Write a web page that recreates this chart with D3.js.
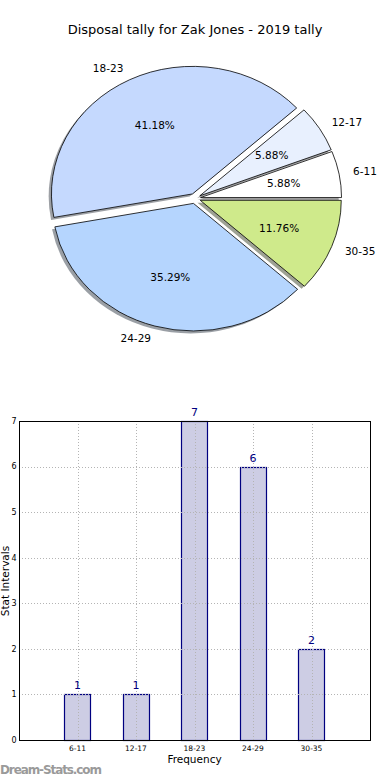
<!DOCTYPE html>
<html>
<head>
<meta charset="utf-8">
<script src="https://cdn.jsdelivr.net/npm/d3@7"></script>
<style>
  body { margin: 0; background: #fff; }
  svg { display: block; font-family: "DejaVu Sans", sans-serif; }
</style>
</head>
<body>
<div id="chart"></div>
<script>
// data
const categories = ["6-11", "12-17", "18-23", "24-29", "30-35"];
const counts = [1, 1, 7, 6, 2];
const pieColors = ["#ffffff", "#e8f0fe", "#c5d9fe", "#b5d5fe", "#cfea8b"];
const yTicks = [0, 1, 2, 3, 4, 5, 6, 7];
const title = "Disposal tally for Zak Jones - 2019 tally";

const W = 390, H = 780;
const svg = d3.select("#chart").append("svg")
    .attr("width", W)
    .attr("height", H);

svg.append("text")
    .attr("x", 195).attr("y", 34)
    .attr("text-anchor", "middle")
    .attr("font-size", 13)
    .attr("fill", "#000")
    .text(title);

// ---- pie (elliptical, like matplotlib without equal aspect) ----
const cx = 195, cy = 198.5, rx = 141, ry = 127.5, explode = 0.04;
const total = d3.sum(counts);

const pie = d3.pie().sort(null)
    .startAngle(Math.PI / 2)
    .endAngle(Math.PI / 2 - 2 * Math.PI);
const arcs = pie(counts);
const arc = d3.arc().innerRadius(0).outerRadius(1);

const pieG = svg.append("g").attr("transform", `translate(${cx},${cy})`);

let wedgeOffset = d => {
    const mid = (d.startAngle + d.endAngle) / 2;
    return [Math.sin(mid), -Math.cos(mid)];
};

// shadows first, under every wedge
pieG.selectAll("path.shadow")
    .data(arcs)
    .enter().append("path")
    .attr("class", "shadow")
    .attr("d", arc)
    .attr("transform", d => {
        const [ux, uy] = wedgeOffset(d);
        return `translate(${ux * explode * rx - 2.8},${uy * explode * ry + 2.5}) scale(${rx},${ry})`;
    })
    .attr("fill", (d, i) => {
        const c = d3.rgb(pieColors[i]);
        return d3.rgb(c.r * 0.3, c.g * 0.3, c.b * 0.3).toString();
    })
    .attr("opacity", 0.5);

pieG.selectAll("path.wedge")
    .data(arcs)
    .enter().append("path")
    .attr("class", "wedge")
    .attr("d", arc)
    .attr("transform", d => {
        const [ux, uy] = wedgeOffset(d);
        return `translate(${ux * explode * rx},${uy * explode * ry}) scale(${rx},${ry})`;
    })
    .attr("fill", (d, i) => pieColors[i])
    .attr("stroke", "#000")
    .attr("stroke-width", 0.8)
    .attr("vector-effect", "non-scaling-stroke");

// category labels at 1.1 r, percentages at 0.6 r
pieG.selectAll("text.lab")
    .data(arcs)
    .enter().append("text")
    .attr("class", "lab")
    .attr("x", d => wedgeOffset(d)[0] * (explode + 1.1) * rx)
    .attr("y", d => wedgeOffset(d)[1] * (explode + 1.1) * ry)
    .attr("dy", "0.35em")
    .attr("text-anchor", d => wedgeOffset(d)[0] > 0 ? "start" : "end")
    .attr("font-size", 10.5)
    .text((d, i) => categories[i]);

pieG.selectAll("text.pct")
    .data(arcs)
    .enter().append("text")
    .attr("class", "pct")
    .attr("x", d => wedgeOffset(d)[0] * (explode + 0.6) * rx)
    .attr("y", d => wedgeOffset(d)[1] * (explode + 0.6) * ry)
    .attr("dy", "0.35em")
    .attr("text-anchor", "middle")
    .attr("font-size", 10.5)
    .text(d => (d.value / total * 100).toFixed(2) + "%");

// ---- bar chart ----
const plotL = 19, plotR = 370, plotT = 421, plotB = 740;
const x = d3.scaleLinear().domain([0, categories.length + 1]).range([plotL, plotR]);
const y = d3.scaleLinear().domain([0, 7]).range([plotB, plotT]);
const barW = x(0.45) - x(0);

const barG = svg.append("g");

barG.selectAll("rect.bar")
    .data(counts)
    .enter().append("rect")
    .attr("class", "bar")
    .attr("x", (d, i) => Math.round(x(i + 1) - barW / 2) + 0.5)
    .attr("y", d => Math.round(y(d)) + 0.5)
    .attr("width", Math.round(barW))
    .attr("height", d => Math.round(y(0)) - Math.round(y(d)))
    .attr("fill", "#cdcde4")
    .attr("stroke", "#000080")
    .attr("stroke-width", 1.2);

// dotted grid drawn over the bars
barG.selectAll("line.hgrid")
    .data(yTicks)
    .enter().append("line")
    .attr("class", "hgrid")
    .attr("x1", plotL).attr("x2", plotR)
    .attr("y1", d => Math.round(y(d)) + 0.5).attr("y2", d => Math.round(y(d)) + 0.5)
    .attr("stroke", "#b4b4b4")
    .attr("stroke-dasharray", "1,2");

barG.selectAll("line.vgrid")
    .data(categories)
    .enter().append("line")
    .attr("class", "vgrid")
    .attr("x1", (d, i) => Math.round(x(i + 1)) + 0.5).attr("x2", (d, i) => Math.round(x(i + 1)) + 0.5)
    .attr("y1", plotT).attr("y2", plotB)
    .attr("stroke", "#b4b4b4")
    .attr("stroke-dasharray", "1,2");

barG.append("rect")
    .attr("x", plotL + 0.5).attr("y", plotT + 0.5)
    .attr("width", plotR - plotL).attr("height", plotB - plotT)
    .attr("fill", "none")
    .attr("stroke", "#000")
    .attr("stroke-width", 1);

barG.selectAll("text.val")
    .data(counts)
    .enter().append("text")
    .attr("class", "val")
    .attr("x", (d, i) => x(i + 1))
    .attr("y", d => y(d) - 5)
    .attr("text-anchor", "middle")
    .attr("font-size", 11)
    .attr("fill", "#000080")
    .text(d => d);

barG.selectAll("text.ytick")
    .data(yTicks)
    .enter().append("text")
    .attr("class", "ytick")
    .attr("x", 16.5)
    .attr("y", d => y(d))
    .attr("dy", "0.35em")
    .attr("text-anchor", "end")
    .attr("font-size", 8)
    .text(d => d);

barG.selectAll("text.xtick")
    .data(categories)
    .enter().append("text")
    .attr("class", "xtick")
    .attr("x", (d, i) => x(i + 1))
    .attr("y", 751)
    .attr("text-anchor", "middle")
    .attr("font-size", 7.5)
    .text(d => d);

svg.append("text")
    .attr("x", (plotL + plotR) / 2).attr("y", 763)
    .attr("text-anchor", "middle")
    .attr("font-size", 10.5)
    .text("Frequency");

svg.append("text")
    .attr("transform", "translate(9,581) rotate(-90)")
    .attr("text-anchor", "middle")
    .attr("font-size", 10.5)
    .text("Stat Intervals");

svg.append("text")
    .attr("x", 0).attr("y", 774)
    .attr("font-size", 12)
    .attr("fill", "#9a9a9a")
    .attr("font-weight", "bold")
    .attr("textLength", 102)
    .text("Dream-Stats.com");
</script>
</body>
</html>
